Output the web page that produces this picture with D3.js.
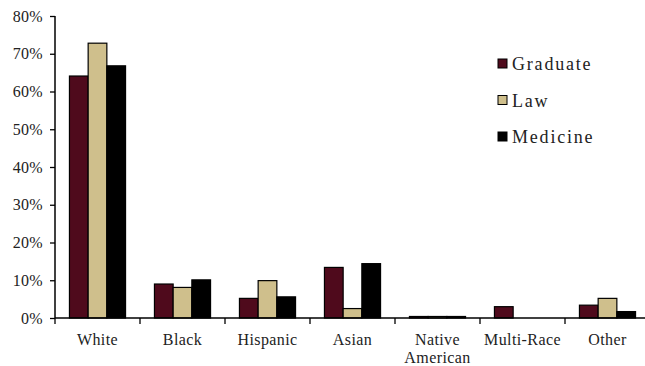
<!DOCTYPE html>
<html>
<head>
<meta charset="utf-8">
<script src="https://cdn.jsdelivr.net/npm/d3@7"></script>
<style>
  body { margin: 0; background: #fff; }
  svg text { font-family: "Liberation Serif", "Times New Roman", serif; fill: #222; }
</style>
</head>
<body>
<div id="chart"></div>
<script>
var categories = ["White", "Black", "Hispanic", "Asian", "Native American", "Multi-Race", "Other"];
var seriesNames = ["Graduate", "Law", "Medicine"];
var graduate = [64.1, 9.0, 5.2, 13.4, 0.4, 3.0, 3.4];
var law = [72.8, 8.1, 9.9, 2.5, 0.4, 0, 5.2];
var medicine = [66.8, 10.1, 5.6, 14.4, 0.4, 0, 1.7];
var yTicks = [0, 10, 20, 30, 40, 50, 60, 70, 80];
var colors = ["#4f0a1c", "#cfbf8c", "#000000"];

var svgwidth = 645, svgheight = 366;
var margin = {top: 16, right: -5, bottom: 48, left: 55},
    width = svgwidth - margin.left - margin.right,
    height = svgheight - margin.top - margin.bottom;

var data = categories.map(function(c, i) {
    return {cat: c, values: [graduate[i], law[i], medicine[i]]};
});

var x = d3.scaleBand().domain(categories).range([0, width]).paddingInner(0).paddingOuter(0);
var x1 = d3.scaleBand().domain(seriesNames).range([x.bandwidth() * 0.17, x.bandwidth() * 0.83]);
var y = d3.scaleLinear().domain([0, 80]).range([height, 0]);

var svg = d3.select("#chart").append("svg")
    .attr("width", svgwidth)
    .attr("height", svgheight)
  .append("g")
    .attr("transform", "translate(" + margin.left + "," + margin.top + ")");

// bars
var groups = svg.selectAll(".grp")
    .data(data)
  .enter().append("g")
    .attr("class", "grp")
    .attr("transform", function(d) { return "translate(" + x(d.cat) + ",0)"; });

groups.selectAll("rect")
    .data(function(d) { return d.values.map(function(v, i) { return {name: seriesNames[i], v: v, i: i}; }); })
  .enter().filter(function(d) { return d.v > 0; }).append("rect")
    .attr("x", function(d) { return x1(d.name); })
    .attr("width", x1.bandwidth())
    .attr("y", function(d) { return y(d.v); })
    .attr("height", function(d) { return height - y(d.v); })
    .style("fill", function(d) { return colors[d.i]; })
    .style("stroke", "#000")
    .style("stroke-width", 1.2);

// y axis
var yAxis = d3.axisLeft(y).tickValues(yTicks).tickSize(5).tickFormat(function(d) { return d + "%"; });
var yg = svg.append("g").attr("class", "y axis").call(yAxis);
yg.select(".domain").attr("d", "M0," + height + "V0").style("stroke", "#000").style("stroke-width", 1.5);
yg.selectAll(".tick line").style("stroke", "#000").style("stroke-width", 1.3);
yg.selectAll("text").attr("x", -12).style("font-size", "16px").style("letter-spacing", "0.3px");

// x axis
var xg = svg.append("g").attr("class", "x axis").attr("transform", "translate(0," + height + ")");
xg.append("line").attr("x1", 0).attr("x2", width).attr("stroke", "#000").attr("stroke-width", 1.5);
xg.selectAll(".xtick")
    .data(categories)
  .enter().append("line")
    .attr("x1", function(d) { return x(d); })
    .attr("x2", function(d) { return x(d); })
    .attr("y1", 0).attr("y2", 6)
    .attr("stroke", "#000").attr("stroke-width", 1.3);

var labels = xg.selectAll(".xlab")
    .data(categories)
  .enter().append("text")
    .attr("text-anchor", "middle")
    .attr("x", function(d) { return x(d) + x.bandwidth() / 2; })
    .attr("y", 27)
    .style("font-size", "16px")
    .style("letter-spacing", "0.4px");
labels.each(function(d) {
    var parts = d === "Native American" ? ["Native", "American"] : [d];
    var t = d3.select(this);
    parts.forEach(function(p, i) {
        t.append("tspan")
            .attr("x", x(d) + x.bandwidth() / 2)
            .attr("dy", i === 0 ? 0 : 18)
            .text(p);
    });
});

// legend
var legend = svg.append("g").attr("transform", "translate(443,48)");
seriesNames.forEach(function(s, i) {
    var g = legend.append("g").attr("transform", "translate(0," + (i * 36.5) + ")");
    g.append("rect").attr("x", 0).attr("y", -5).attr("width", 9).attr("height", 9)
        .style("fill", colors[i]).style("stroke", "#000").style("stroke-width", 1);
    g.append("text").attr("x", 14).attr("y", 0).attr("dy", "0.35em")
        .style("font-size", "18px").style("letter-spacing", "1.8px").text(s);
});
</script>
</body>
</html>
